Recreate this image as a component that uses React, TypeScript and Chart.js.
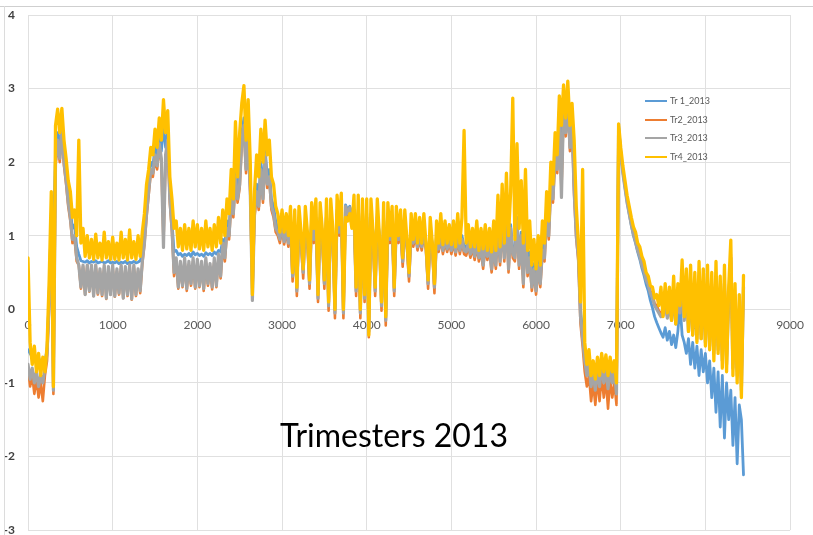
import React, { useEffect, useRef } from "react";
import { Chart, registerables } from "chart.js";

Chart.register(...registerables);

// sample spacing along the x axis (observation number)
const SAMPLE_STEP = 25;

const X_MIN = 0;
const X_MAX = 9000;
const X_TICK_STEP = 1000;
const Y_MIN = -3;
const Y_MAX = 4;
const Y_TICK_STEP = 1;

const TITLE_TEXT = "Trimesters 2013";
const seriesNames = ["Tr 1_2013", "Tr2_2013", "Tr3_2013", "Tr4_2013"];
const seriesColors = ["#5B9BD5", "#ED7D31", "#A5A5A5", "#FFC000"];
const seriesWidths = [2.8, 2.6, 3.2, 3.3];

const tr1_2013 = [
  -0.55, -0.6, -0.65, -0.6, -0.7, -0.65, -0.75, -0.7, -0.7, -0.55, 0.2, 1.3, 1.0, 2.1, 2.4, 2.2, 2.5, 2.1, 1.85, 1.55,
  1.35, 1.1, 1.15, 0.85, 0.75, 0.66, 0.65, 0.64, 0.66, 0.63, 0.65, 0.64, 0.66, 0.63, 0.64, 0.65, 0.63, 0.64, 0.66, 0.63,
  0.64, 0.63, 0.65, 0.62, 0.64, 0.63, 0.65, 0.62, 0.64, 0.63, 0.65, 0.63, 0.64, 0.66, 0.75, 1.0, 1.4, 1.7, 2.0, 1.95,
  2.2, 2.05, 2.35, 2.15, 2.5, 2.2, 2.4, 1.6, 1.2, 0.78, 0.8, 0.74, 0.76, 0.72, 0.75, 0.73, 0.76, 0.72, 0.78, 0.74,
  0.76, 0.73, 0.75, 0.72, 0.77, 0.74, 0.76, 0.73, 0.78, 0.75, 0.8, 0.78, 0.95, 0.9, 1.2, 1.1, 1.6, 1.4, 1.9, 1.6,
  1.9, 2.4, 2.6, 2.0, 2.4, 1.7, 1.0, 1.4, 1.7, 1.5, 2.0, 1.6, 2.2, 1.8, 1.9, 1.5, 1.4, 1.2, 1.1, 1.0,
  1.2, 1.0, 1.15, 0.98, 1.2, 0.6, 1.15, 0.5, 1.2, 1.0, 0.7, 1.2, 1.0, 0.55, 1.25, 1.0, 1.25, 0.4, 1.25, 1.05,
  0.5, 1.3, 0.3, 1.3, 1.05, 0.2, 1.35, 1.1, 1.4, 0.2, 1.42, 1.35, 1.4, 1.3, 1.35, 0.4, 1.35, 0.1, 1.35, 0.3,
  1.3, -0.1, 1.3, 1.05, 0.4, 1.3, 1.0, 0.2, 1.25, 0.0, 1.25, 1.0, 1.2, 0.4, 1.2, 1.0, 1.15, 0.75, 1.15, 0.95,
  0.6, 1.1, 0.95, 1.1, 0.9, 1.05, 0.9, 1.1, 0.9, 0.45, 1.05, 0.9, 0.4, 1.02, 0.88, 1.05, 0.86, 1.0, 0.88, 1.0,
  0.86, 1.0, 0.84, 1.02, 0.86, 1.0, 0.86, 0.84, 0.95, 0.82, 0.93, 0.8, 0.95, 0.78, 0.9, 0.7, 0.92, 0.78, 0.9, 0.65,
  0.9, 0.7, 1.15, 0.72, 1.25, 0.78, 1.35, 0.65, 1.15, 0.82, 0.78, 1.25, 0.7, 1.05, 0.45, 1.15, 0.6, 0.78, 0.4, 0.62,
  0.35, 0.68, 0.45, 0.9, 0.8, 1.4, 1.1, 1.8, 1.6, 2.2, 2.0, 2.7, 2.0, 2.85, 2.5, 2.9, 2.3, 2.6, 1.7, 1.1,
  0.75, 0.0, -0.3, -0.6, -0.8, -0.65, -0.95, -0.75, -1.0, -0.7, -0.95, -0.65, -0.9, -0.7, -0.98, -0.7, -0.9, -0.75, -1.05, 2.5,
  2.15, 1.88, 1.66, 1.46, 1.3, 1.14, 1.0, 0.9, 0.78, 0.68, 0.56, 0.46, 0.34, 0.25, 0.12, 0.02, -0.1, -0.18, -0.25, -0.32,
  -0.38, -0.25, -0.42, -0.3, -0.48, -0.35, -0.52, -0.3, 0.08, -0.35, -0.45, -0.6, -0.4, -0.75, -0.45, -0.8, -0.5, -0.9, -0.55, -0.85,
  -0.6, -1.0, -0.7, -1.2, -0.8, -1.4, -0.85, -1.6, -0.9, -1.75, -1.0, -1.5, -1.1, -1.85, -1.2, -2.1, -1.3, -1.5, -2.25,
];

const tr2_2013 = [
  -0.8, -1.05, -0.9, -1.15, -0.95, -1.2, -1.0, -1.25, -0.9, -0.7, 0.05, 1.15, -1.15, 1.95, 2.25, 2.0, 2.4, 1.95, 1.7, 1.4,
  1.2, 0.9, 0.95, 0.65, 0.6, 0.28, 0.58, 0.2, 0.6, 0.24, 0.58, 0.18, 0.6, 0.2, 0.52, 0.18, 0.58, 0.14, 0.55, 0.2,
  0.58, 0.17, 0.52, 0.2, 0.58, 0.15, 0.55, 0.18, 0.6, 0.13, 0.58, 0.18, 0.52, 0.22, 0.62, 0.88, 1.25, 1.55, 1.85, 1.8,
  2.05, 1.9, 2.2, 2.0, 0.9, 2.05, 2.25, 1.45, 1.05, 0.45, 0.65, 0.28, 0.6, 0.3, 0.65, 0.25, 0.6, 0.32, 0.65, 0.28,
  0.62, 0.3, 0.6, 0.25, 0.65, 0.32, 0.58, 0.27, 0.65, 0.3, 0.7, 0.42, 0.85, 0.65, 1.05, 0.95, 1.45, 1.25, 1.75, 1.45,
  1.65, 2.25, 2.45, 1.85, 2.25, 1.55, 0.2, 1.25, 1.55, 1.35, 1.85, 1.45, 2.05, 1.65, 1.75, 1.35, 1.25, 1.05, 1.0, 0.9,
  1.1, 0.88, 1.05, 0.85, 1.1, 0.38, 1.05, 0.18, 1.1, 0.88, 0.42, 1.1, 0.9, 0.28, 1.15, 0.9, 1.15, 0.1, 1.15, 0.95,
  0.28, 1.2, -0.02, 1.2, 0.95, -0.12, 1.25, 1.0, 1.3, -0.12, 1.35, 1.25, 1.33, 1.15, 1.25, 0.18, 1.25, -0.12, 1.25, 0.1,
  1.2, -0.38, 1.2, 0.95, 0.18, 1.2, 0.9, -0.02, 1.15, -0.22, 1.15, 0.9, 1.1, 0.18, 1.1, 0.9, 1.05, 0.58, 1.05, 0.85,
  0.38, 1.0, 0.85, 1.0, 0.8, 0.95, 0.8, 1.0, 0.8, 0.28, 0.95, 0.8, 0.22, 0.93, 0.78, 0.95, 0.75, 0.9, 0.78, 0.9,
  0.75, 0.9, 0.73, 0.93, 0.75, 0.9, 0.75, 0.73, 0.85, 0.7, 0.83, 0.67, 0.85, 0.65, 0.8, 0.55, 0.83, 0.67, 0.8, 0.5,
  0.8, 0.55, 1.05, 0.6, 1.15, 0.65, 1.25, 0.5, 1.05, 0.7, 0.65, 1.15, 0.55, 0.95, 0.3, 1.05, 0.45, 0.65, 0.25, 0.5,
  0.2, 0.55, 0.3, 0.75, 0.65, 1.25, 0.95, 1.65, 1.45, 2.05, 1.85, 2.55, 1.6, 2.7, 2.35, 2.75, 2.15, 2.45, 1.55, 0.95,
  0.65, -0.2, -0.5, -0.85, -1.05, -0.9, -1.25, -1.0, -1.3, -0.95, -1.25, -0.9, -1.2, -0.95, -1.35, -0.95, -1.2, -1.0, -1.3, 2.4,
  2.12, 1.9, 1.7, 1.5, 1.38, 1.2, 1.1, 1.0, 0.85, 0.8, 0.65, 0.58, 0.45, 0.38, 0.25, 0.2, 0.08, 0.05, -0.02, -0.05,
  -0.05, 0.12, -0.1, 0.08, -0.12, 0.25, -0.15, 0.15, -0.02, 0.45, -0.1, 0.35, -0.25, 0.4, -0.3, 0.3, -0.35, 0.45, -0.35, 0.35,
  -0.4, 0.4, -0.45, 0.35, -0.55, 0.45, -0.5, 0.3, -0.65, 0.4, -0.7, 0.2, 0.75, -0.75, 0.2, -0.85, 0.05, -1.05, 0.35,
];

const tr3_2013 = [
  -0.75, -0.95, -0.8, -1.0, -0.85, -1.05, -0.9, -1.0, -0.8, -0.6, 0.1, 1.2, -1.1, 2.0, 2.3, 2.05, 2.45, 2.0, 1.75, 1.45,
  1.25, 0.95, 1.0, 0.7, 0.6, 0.3, 0.6, 0.2, 0.6, 0.25, 0.6, 0.18, 0.6, 0.22, 0.55, 0.2, 0.6, 0.15, 0.58, 0.2,
  0.6, 0.18, 0.55, 0.22, 0.6, 0.15, 0.58, 0.2, 0.6, 0.14, 0.6, 0.2, 0.55, 0.25, 0.65, 0.9, 1.3, 1.6, 1.9, 1.85,
  2.1, 1.95, 2.25, 2.05, 0.84, 2.1, 2.3, 1.5, 1.1, 0.5, 0.7, 0.3, 0.65, 0.32, 0.7, 0.28, 0.65, 0.35, 0.7, 0.3,
  0.68, 0.32, 0.65, 0.28, 0.7, 0.35, 0.62, 0.3, 0.7, 0.32, 0.75, 0.45, 0.9, 0.7, 1.1, 1.0, 1.5, 1.3, 1.8, 1.5,
  1.7, 2.3, 2.5, 1.9, 2.3, 1.6, 0.12, 1.3, 1.6, 1.4, 1.9, 1.5, 2.1, 1.7, 1.8, 1.4, 1.3, 1.1, 1.05, 0.95,
  1.15, 0.92, 1.1, 0.9, 1.15, 0.45, 1.1, 0.25, 1.15, 0.92, 0.5, 1.15, 0.95, 0.35, 1.2, 0.95, 1.2, 0.15, 1.2, 1.0,
  0.35, 1.25, 0.05, 1.25, 1.0, -0.05, 1.3, 1.05, 1.35, -0.05, 1.4, 1.3, 1.38, 1.2, 1.3, 0.25, 1.3, -0.05, 1.3, 0.15,
  1.25, -0.3, 1.25, 1.0, 0.25, 1.25, 0.95, 0.05, 1.2, -0.15, 1.2, 0.95, 1.15, 0.25, 1.15, 0.95, 1.1, 0.65, 1.1, 0.9,
  0.45, 1.05, 0.9, 1.05, 0.85, 1.0, 0.85, 1.05, 0.85, 0.35, 1.0, 0.85, 0.3, 0.98, 0.82, 1.0, 0.8, 0.95, 0.82, 0.95,
  0.8, 0.95, 0.78, 0.98, 0.8, 0.95, 0.8, 0.78, 0.9, 0.75, 0.88, 0.72, 0.9, 0.7, 0.85, 0.6, 0.88, 0.72, 0.85, 0.55,
  0.85, 0.6, 1.1, 0.65, 1.2, 0.7, 1.3, 0.55, 1.1, 0.75, 0.7, 1.2, 0.6, 1.0, 0.35, 1.1, 0.5, 0.7, 0.3, 0.55,
  0.25, 0.6, 0.35, 0.8, 0.7, 1.3, 1.0, 1.7, 1.5, 2.1, 1.9, 2.6, 1.52, 2.75, 2.4, 2.8, 2.2, 2.5, 1.6, 1.0,
  0.7, -0.1, -0.4, -0.7, -0.9, -0.75, -1.05, -0.85, -1.1, -0.8, -1.05, -0.75, -1.0, -0.8, -1.08, -0.8, -1.0, -0.85, -1.15, 2.45,
  2.1, 1.85, 1.65, 1.45, 1.3, 1.15, 1.02, 0.92, 0.8, 0.72, 0.6, 0.52, 0.4, 0.33, 0.22, 0.15, 0.05, 0.0, -0.05, -0.1,
  -0.08, 0.1, -0.12, 0.05, -0.15, 0.2, -0.2, 0.1, -0.05, 0.4, -0.15, 0.3, -0.3, 0.35, -0.35, 0.25, -0.4, 0.4, -0.4, 0.3,
  -0.45, 0.35, -0.5, 0.3, -0.6, 0.4, -0.55, 0.25, -0.7, 0.35, -0.75, 0.1, 0.7, -0.8, 0.15, -0.9, 0.0, -1.1, 0.3,
];

const tr4_2013 = [
  0.7, -0.45, -0.75, -0.5, -0.85, -0.6, -0.9, -0.65, -0.85, -0.5, 0.4, 1.6, -1.05, 2.5, 2.72, 2.4, 2.73, 2.3, 2.05, 1.75,
  1.6, 1.25, 1.35, 1.0, 2.3, 0.9, 1.1, 0.72, 1.0, 0.7, 0.95, 0.68, 1.02, 0.7, 0.9, 0.67, 1.05, 0.7, 0.92, 0.68,
  0.98, 0.68, 0.9, 0.67, 1.05, 0.7, 0.95, 0.67, 1.08, 0.7, 0.92, 0.68, 1.0, 0.72, 1.05, 1.3, 1.7, 1.9, 2.2, 2.1,
  2.45, 2.2, 2.6, 2.3, 2.85, 2.4, 2.7, 1.8, 1.5, 1.1, 1.2, 0.85, 1.1, 0.8, 1.15, 0.82, 1.1, 0.8, 1.2, 0.85,
  1.15, 0.82, 1.1, 0.8, 1.2, 0.85, 1.1, 0.8, 1.15, 0.85, 1.25, 0.9, 1.35, 1.0, 1.5, 1.3, 1.9, 1.5, 2.55, 1.8,
  2.4, 2.8, 3.04, 2.3, 2.85, 2.0, 0.2, 1.6, 2.1, 1.8, 2.45, 2.0, 2.57, 2.1, 2.3, 1.8, 1.7, 1.4, 1.3, 1.05,
  1.35, 1.05, 1.3, 1.0, 1.4, 0.5, 1.35, 0.3, 1.4, 1.05, 0.55, 1.4, 1.05, 0.4, 1.45, 1.1, 1.5, 0.2, 1.45, 1.1,
  0.4, 1.5, 0.1, 1.5, 1.1, 0.0, 1.55, 1.15, 1.58, 0.0, 1.25, 1.2, 1.3, 1.1, 1.55, 0.3, 1.55, 0.0, 1.5, 0.2,
  1.5, -0.35, 1.5, 1.05, 0.3, 1.5, 1.0, 0.1, 1.45, -0.1, 1.45, 1.0, 1.4, 0.3, 1.4, 1.0, 1.35, 0.7, 1.35, 0.95,
  0.5, 1.3, 0.95, 1.3, 0.9, 1.25, 0.9, 1.3, 0.9, 0.4, 1.25, 0.9, 0.35, 1.2, 0.9, 1.3, 0.88, 1.2, 0.9, 1.15,
  0.88, 1.2, 0.85, 1.3, 0.9, 1.25, 2.43, 0.9, 1.15, 0.85, 1.1, 0.85, 1.2, 0.8, 1.1, 0.82, 1.15, 0.8, 1.1, 0.78,
  1.2, 0.8, 1.55, 0.85, 1.7, 0.9, 1.85, 1.0, 1.6, 2.87, 0.95, 2.25, 1.1, 1.75, 0.9, 1.9, 0.8, 1.2, 0.6, 0.95,
  0.55, 1.0, 0.6, 1.2, 0.9, 1.6, 1.2, 2.0, 1.7, 2.4, 2.1, 2.9, 2.5, 3.05, 2.6, 3.1, 2.5, 2.8, 2.3, 1.4,
  0.9, 0.1, 1.9, -0.45, -0.75, -0.55, -0.9, -0.7, -0.95, -0.65, -0.9, -0.6, -0.85, -0.62, -0.9, -0.65, -0.85, -0.7, -1.0, 2.52,
  2.2, 1.95, 1.75, 1.55, 1.4, 1.25, 1.12, 1.05, 0.9, 0.85, 0.72, 0.65, 0.5, 0.45, 0.32, 0.3, 0.15, 0.2, 0.05, 0.3,
  -0.1, 0.35, -0.05, 0.3, -0.15, 0.45, -0.2, 0.35, 0.05, 0.67, -0.1, 0.55, -0.3, 0.6, -0.35, 0.5, -0.45, 0.65, -0.4, 0.55,
  -0.5, 0.6, -0.55, 0.5, -0.7, 0.65, -0.6, 0.45, -0.8, 0.6, -0.85, 0.3, 0.94, -0.9, 0.35, -1.0, 0.2, -1.2, 0.46,
];

const allSeries = [tr1_2013, tr2_2013, tr3_2013, tr4_2013];

export default function App() {
  const canvasRef = useRef<HTMLCanvasElement>(null);

  useEffect(() => {
    const canvas = canvasRef.current;
    if (!canvas) return;
    const datasets = allSeries.map((vals, k) => ({
      label: seriesNames[k],
      data: vals.map((v, i) => ({ x: i * SAMPLE_STEP, y: v })),
      borderColor: seriesColors[k],
      backgroundColor: seriesColors[k],
      borderWidth: seriesWidths[k],
      borderJoinStyle: "round",
      borderCapStyle: "round",
      pointRadius: 0,
      pointHoverRadius: 0,
      tension: 0,
      fill: false,
      order: allSeries.length - 1 - k,
    }));

    const chart = new Chart(canvas, {
      type: "line",
      data: { datasets },
      options: {
        animation: false,
        responsive: false,
        maintainAspectRatio: false,
        events: [],
        layout: { padding: { left: 0, top: 15, right: 20, bottom: 5 } },
        plugins: {
          legend: { display: false },
          title: { display: false },
          tooltip: { enabled: false },
        },
        scales: {
          x: {
            type: "linear",
            min: X_MIN,
            max: X_MAX,
            position: { y: 0 } as any,
            ticks: {
              stepSize: X_TICK_STEP,
              padding: 9,
              color: "#595959",
              font: { family: "Lato", size: 12 },
              maxRotation: 0,
              autoSkip: false,
              callback: (v: any) => String(v),
            },
            grid: { color: "#e0e0e0", lineWidth: 1, drawTicks: false },
            border: { display: false },
          },
          y: {
            type: "linear",
            min: Y_MIN,
            max: Y_MAX,
            ticks: {
              stepSize: Y_TICK_STEP,
              padding: 13,
              color: "#404040",
              font: { family: "Lato", size: 12, weight: "bold" },
              callback: (v: any) => String(v),
            },
            grid: { color: "#e0e0e0", lineWidth: 1, drawTicks: false },
            border: { display: false },
            afterFit: (scale: any) => {
              scale.width = 28;
              scale.paddingTop = 0;
              scale.paddingBottom = 5;
            },
          },
        },
      },
    } as any);

    return () => chart.destroy();
  }, []);

  const legendRowY = [101, 119.5, 138, 156.5];

  return (
    <div
      style={{
        position: "fixed",
        left: 0,
        top: 0,
        width: 813,
        height: 535,
        background: "#ffffff",
        overflow: "hidden",
      }}
    >
      <canvas
        ref={canvasRef}
        width={813}
        height={535}
        style={{ position: "absolute", left: 0, top: 0, width: 813, height: 535 }}
      />
      <div style={{ position: "absolute", left: 0, top: 6, width: 813, height: 1, background: "#cfcfcf" }} />
      <div style={{ position: "absolute", left: 4, top: 6, width: 1, height: 529, background: "#dcdcdc" }} />
      {seriesNames.map((name, k) => (
        <div
          key={name}
          style={{
            position: "absolute",
            left: 645,
            top: legendRowY[k] - 6,
            height: 12,
            display: "flex",
            alignItems: "center",
            whiteSpace: "nowrap",
          }}
        >
          <div style={{ width: 22, height: 2, background: seriesColors[k] }} />
          <span
            style={{
              marginLeft: 3,
              fontFamily: "Lato",
              fontSize: 9,
              color: "#595959",
              lineHeight: "12px",
            }}
          >
            {name}
          </span>
        </div>
      ))}
      <div
        style={{
          position: "absolute",
          left: 394,
          top: 419,
          transform: "translateX(-50%)",
          fontFamily: "Lato",
          fontSize: 32,
          lineHeight: 1,
          color: "#000000",
          whiteSpace: "nowrap",
        }}
      >
        {TITLE_TEXT}
      </div>
    </div>
  );
}
